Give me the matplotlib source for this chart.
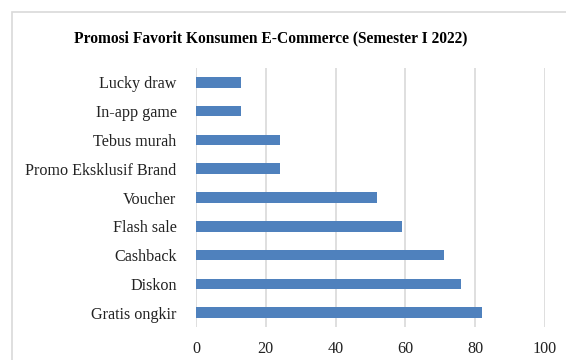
import matplotlib.pyplot as plt
from matplotlib.patches import Rectangle

plt.rcParams['font.family'] = ['Liberation Serif', 'DejaVu Serif']

kategori = ['Gratis ongkir', 'Diskon', 'Cashback', 'Flash sale', 'Voucher',
            'Promo Eksklusif Brand', 'Tebus murah', 'In-app game', 'Lucky draw']
nilai = [82, 76, 71, 59, 52, 24, 24, 13, 13]
xticks = [0, 20, 40, 60, 80, 100]

fig = plt.figure(figsize=(5.66, 3.6), dpi=100)
ax = fig.add_axes([196 / 566, 1 - 327 / 360, 349 / 566, 259 / 360])

# bingkai abu-abu
fig.patches.append(Rectangle((12 / 566, -0.1), 1.2, 1 - 12 / 360 + 0.1,
                             transform=fig.transFigure, fill=False,
                             edgecolor='#d9d9d9', linewidth=1.2))

ax.barh(range(len(kategori)), nilai, height=0.37, color='#4f81bd', zorder=3)
ax.set_yticks(range(len(kategori)))
ax.set_yticklabels(kategori)
ax.set_xticks(xticks)
ax.set_xlim(0, 100)
ax.set_ylim(-0.5, len(kategori) - 0.5)
ax.grid(axis='x', color='#d9d9d9', linewidth=1.2, zorder=0)
for s in ax.spines.values():
    s.set_visible(False)
ax.tick_params(axis='y', length=0, pad=14, labelsize=11.6, labelcolor='#222222')
ax.tick_params(axis='x', length=0, pad=10, labelsize=11.6, labelcolor='#222222')

fig.text(271 / 566, 1 - 38 / 360, 'Promosi Favorit Konsumen E-Commerce (Semester I 2022)',
         ha='center', va='center', fontsize=11.2, fontweight='bold')

fig.savefig('out.png', dpi=100)
